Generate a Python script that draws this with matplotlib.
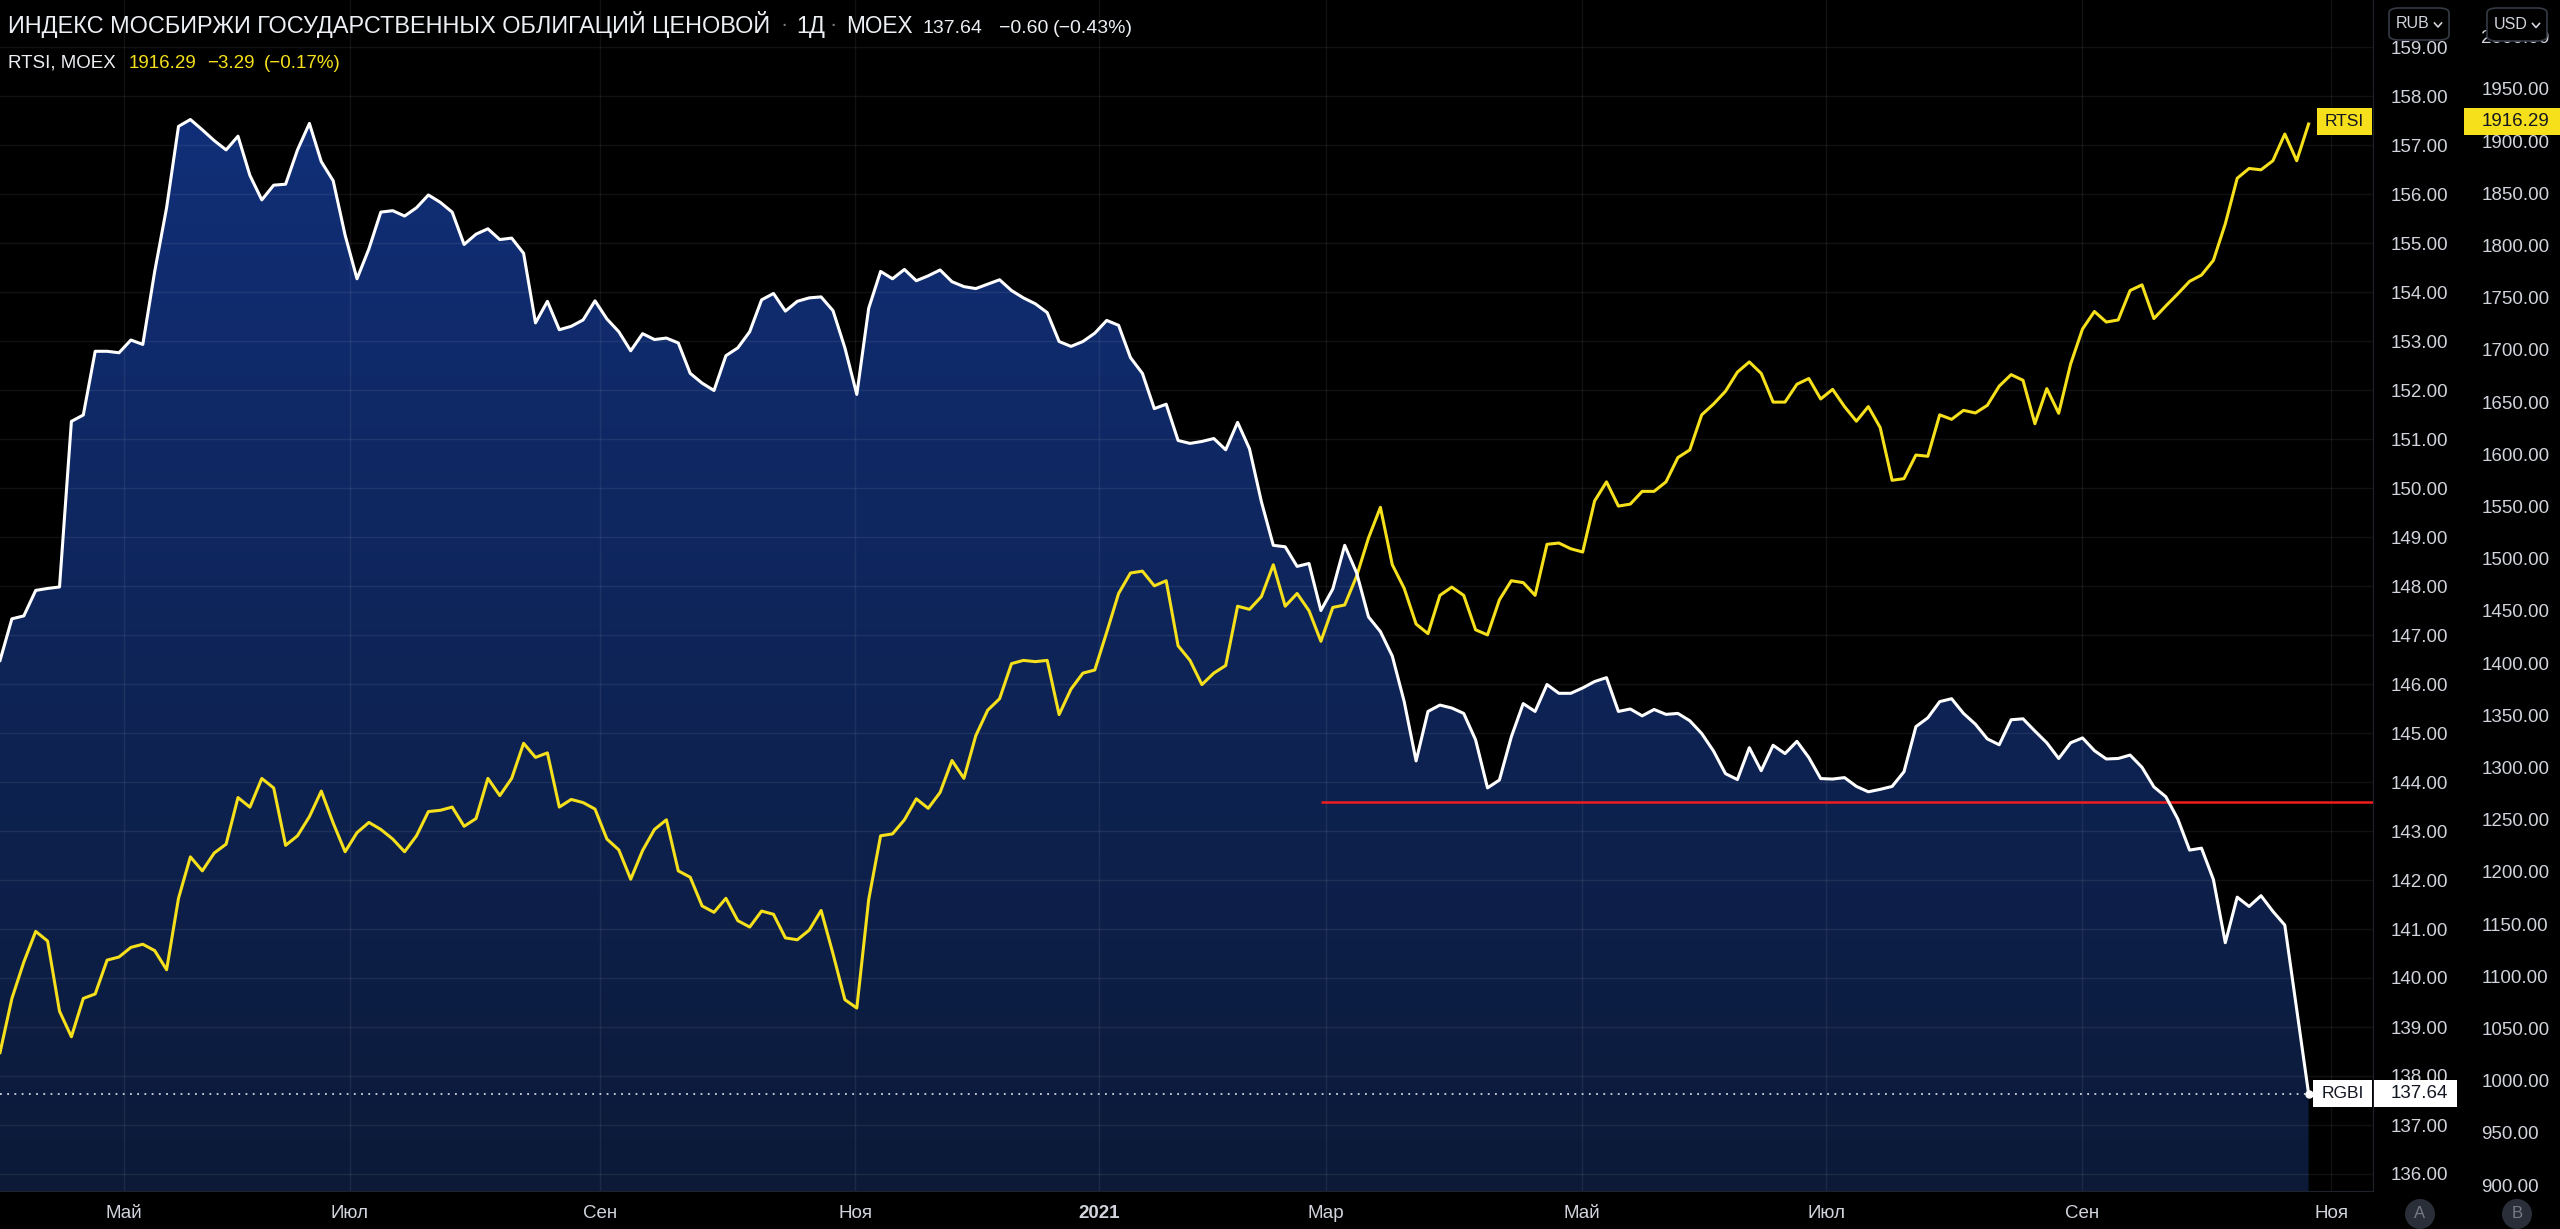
import numpy as np
import matplotlib.pyplot as plt
from matplotlib.colors import LinearSegmentedColormap
from matplotlib.patches import Rectangle, FancyBboxPatch, Ellipse
from matplotlib.lines import Line2D

# RGBI (price index of gov bonds) and RTSI, one value every 2 trading days, Apr 2020 - Oct 2021
rgbi = [
    146.48, 147.33, 147.39, 147.91, 147.95, 147.98, 151.36, 151.49, 152.79, 152.79,
    152.76, 153.02, 152.93, 154.42, 155.72, 157.38, 157.52, 157.31, 157.09, 156.90,
    157.18, 156.38, 155.88, 156.18, 156.20, 156.90, 157.44, 156.66, 156.27, 155.16,
    154.27, 154.88, 155.63, 155.66, 155.55, 155.72,
    155.98, 155.83, 155.63, 154.97, 155.18, 155.29, 155.07, 155.10, 154.79, 153.37,
    153.81, 153.23, 153.30, 153.43, 153.82, 153.45, 153.19, 152.80, 153.15, 153.03,
    153.06, 152.96, 152.34, 152.14, 151.99, 152.70, 152.86, 153.19, 153.84, 153.97,
    153.61, 153.81, 153.88,
    153.90, 153.62, 152.86, 151.91, 153.67, 154.42, 154.27, 154.46, 154.23, 154.33,
    154.45, 154.21, 154.11, 154.07, 154.16, 154.25, 154.03, 153.88, 153.76, 153.58,
    152.99, 152.89, 152.99, 153.16, 153.42, 153.32, 152.66, 152.34, 151.62, 151.71,
    150.97, 150.91,
    150.95, 151.01, 150.78, 151.34, 150.80, 149.72, 148.83, 148.80, 148.40, 148.46,
    147.50, 147.94, 148.83, 148.27, 147.37, 147.07, 146.57, 145.64, 144.43, 145.44,
    145.57, 145.51, 145.40, 144.86, 143.88, 144.04, 144.92, 145.60, 145.44, 145.99,
    145.81, 145.81, 145.92, 146.05,
    146.13, 145.44, 145.49, 145.35, 145.48, 145.38, 145.40, 145.25, 144.99, 144.63,
    144.17, 144.05, 144.70, 144.23, 144.75, 144.58, 144.83, 144.50, 144.07, 144.06,
    144.09, 143.91, 143.80, 143.85, 143.91, 144.21, 145.13, 145.31, 145.64, 145.70,
    145.40, 145.18, 144.88, 144.76,
    145.27, 145.29, 145.04, 144.80, 144.48, 144.80, 144.90, 144.64, 144.47, 144.48,
    144.55, 144.30, 143.90, 143.70, 143.25, 142.61, 142.65, 142.01, 140.72, 141.65,
    141.46, 141.68, 141.36, 141.08, 139.36, 137.64,
]

rtsi = [
    1026.8, 1078.7, 1113.5, 1142.9, 1133.7, 1066.5, 1042.0, 1078.7, 1083.0, 1115.4,
    1118.4, 1127.6, 1130.6, 1124.5, 1106.2, 1174.6, 1214.3, 1200.9, 1218.0, 1226.5,
    1271.1, 1261.9, 1289.4, 1280.3, 1225.3, 1234.5, 1252.8, 1277.3, 1246.7, 1219.2,
    1237.5, 1247.3, 1240.6, 1231.4, 1219.2, 1234.5,
    1257.7, 1258.9, 1262.0, 1243.6, 1251.0, 1289.5, 1273.0, 1289.5, 1323.1, 1309.6,
    1313.9, 1262.0, 1269.3, 1266.3, 1260.1, 1231.4, 1221.0, 1192.9, 1220.4, 1240.6,
    1249.8, 1200.9, 1194.8, 1167.3, 1161.2, 1174.6, 1153.2, 1147.1, 1162.4, 1159.3,
    1136.7, 1134.9, 1144.1,
    1163.0, 1121.5, 1077.5, 1069.5, 1173.4, 1234.5, 1236.3, 1249.8, 1269.9, 1260.8,
    1276.0, 1306.6, 1289.5, 1330.4, 1354.8, 1365.8, 1399.4, 1402.5, 1401.3, 1402.5,
    1350.6, 1375.0, 1390.3, 1393.3, 1429.4, 1466.6, 1486.2, 1488.0, 1473.9, 1478.8,
    1416.5, 1402.5,
    1379.3, 1390.3, 1397.6, 1454.4, 1451.4, 1463.6, 1494.1, 1454.4, 1466.6, 1450.1,
    1420.8, 1453.2, 1455.6, 1483.1, 1519.8, 1549.1, 1494.1, 1471.5, 1437.3, 1428.1,
    1464.8, 1472.7, 1464.8, 1431.8, 1426.9, 1460.5, 1478.8, 1477.0, 1464.8, 1513.7,
    1514.9, 1509.4, 1506.3, 1555.2,
    1573.5, 1550.3, 1552.2, 1564.4, 1564.4, 1573.5, 1596.8, 1604.1, 1637.7, 1648.1,
    1660.3, 1678.6, 1688.4, 1677.4, 1649.9, 1649.9, 1667.0, 1672.5, 1652.9, 1662.1,
    1645.6, 1631.6, 1645.6, 1625.5, 1575.0, 1576.6, 1599.2, 1598.0, 1637.7, 1633.4,
    1642.0, 1639.5, 1646.8, 1665.2,
    1676.2, 1670.8, 1629.2, 1662.8, 1639.2, 1686.3, 1719.9, 1736.7, 1726.6, 1728.6,
    1756.8, 1762.2, 1729.9, 1742.0, 1753.5, 1765.6, 1771.6, 1785.7, 1820.7, 1864.3,
    1873.7, 1872.4, 1881.1, 1906.7, 1881.1, 1916.29,
]

month_labels = ["Май", "Июл", "Сен", "Ноя", "2021", "Мар", "Май", "Июл", "Сен", "Ноя"]
month_bars = [20.8, 58.8, 100.8, 143.7, 184.7, 222.9, 265.9, 306.9, 349.9, 391.8]

rgbi_ticks = list(range(136, 160))
rtsi_ticks = list(range(900, 2001, 50))

support_level = 143.59   # red horizontal line
support_start = 222.0    # bar where it starts (early March 2021)
rgbi_last = 137.64
rtsi_last = 1916.29

bars = np.arange(len(rgbi)) * 2  # trading-day index

# ---- layout (pixels) ----
W, H = 2560, 1229
PX_PER_BAR = 5.95
plot_right = 2373
plot_bottom = 1191

FONT = ["Liberation Sans", "DejaVu Sans"]
plt.rcParams["font.family"] = FONT
TXT = "#d1d4dc"
HEAD = "#eceff4"
YEL = "#f5e01b"

fig = plt.figure(figsize=(W / 100, H / 100), dpi=100, facecolor="black")
ax = fig.add_axes([0, (H - plot_bottom) / H, plot_right / W, plot_bottom / H])
ax.set_facecolor("black")

y0_rgbi = 136 - (plot_bottom - 1174) / 49
y1_rgbi = 136 + 1174 / 49
y0_rtsi = 900 - (plot_bottom - 1185) / 1.044
y1_rtsi = 900 + 1185 / 1.044
xmax = plot_right / PX_PER_BAR

# gradient area under RGBI
poly = ax.fill_between(bars, rgbi, y0_rgbi, facecolor="none", edgecolor="none")
cmap = LinearSegmentedColormap.from_list("area", ["#0c1a38", "#112f78"])
grad = np.linspace(0, 1, 256).reshape(-1, 1)
im = ax.imshow(grad, extent=[bars[0], bars[-1], y0_rgbi, max(rgbi)], origin="lower",
               aspect="auto", cmap=cmap, zorder=0.5, interpolation="bicubic")
im.set_clip_path(poly.get_paths()[0], transform=ax.transData)

ax.hlines(support_level, support_start, xmax, color="#f01d1d", lw=1.8, zorder=3)
ax.hlines(rgbi_last, 0, bars[-1], color="#cfd3dc", lw=1.3, linestyle=(0, (1, 3)), zorder=3)

# RTSI scale
ax2 = ax.twinx()
ax2.plot(bars, rtsi, color=YEL, lw=2.2, zorder=3)
ax2.plot(bars, rgbi, color="white", lw=2.2, zorder=4, transform=ax.transData)
ax2.plot([bars[-1]], [rgbi_last], "o", ms=5, color="white", zorder=5, transform=ax.transData)
ax2.set_ylim(y0_rtsi, y1_rtsi)
ax2.set_yticks(rtsi_ticks)
ax2.set_yticklabels([f"{v:.2f}" for v in rtsi_ticks])
ax2.tick_params(axis="y", length=0, pad=78, labelsize=13.5, labelcolor=TXT)
for side in ["top", "left", "right", "bottom"]:
    ax2.spines[side].set_visible(False)

# RGBI scale (twinx moved it to the left, put it back right)
ax.set_xlim(0, xmax)
ax2.set_xlim(0, xmax)
ax.set_ylim(y0_rgbi, y1_rgbi)
ax.yaxis.tick_right()
ax.set_yticks(rgbi_ticks)
ax.set_yticklabels([f"{v:.2f}" for v in rgbi_ticks])
ax.set_xticks(month_bars)
ax.set_xticklabels(month_labels)
for lab in ax.get_xticklabels():
    if lab.get_text() == "2021":
        lab.set_fontweight("bold")
ax.tick_params(axis="y", left=False, labelleft=False, right=True, labelright=True,
               length=0, pad=13, labelsize=13.5, labelcolor=TXT)
ax.tick_params(axis="x", length=0, pad=10, labelsize=13.5, labelcolor=TXT)
ax.grid(True, color="white", alpha=0.07, lw=1)
for side in ["top", "left"]:
    ax.spines[side].set_visible(False)
for side in ["right", "bottom"]:
    ax.spines[side].set_color("#1e222d")


def fx(x):
    return x / W


def fy(y):
    return 1 - y / H


def box(x0, y0, x1, y1, face, text, tcolor, tx=None, size=13.5):
    fig.add_artist(Rectangle((fx(x0), fy(y1)), fx(x1 - x0), (y1 - y0) / H,
                             transform=fig.transFigure, facecolor=face, edgecolor="none", zorder=5))
    if tx is None:
        fig.text(fx((x0 + x1) / 2), fy((y0 + y1) / 2), text, color=tcolor, fontsize=size,
                 ha="center", va="center", zorder=6)
    else:
        fig.text(fx(tx), fy((y0 + y1) / 2), text, color=tcolor, fontsize=size,
                 ha="left", va="center", zorder=6)


# price labels
box(2317, 108, 2372, 135, YEL, "RTSI", "#131722", size=12.5)
box(2464, 108, 2560, 135, YEL, "1916.29", "#131722", tx=2482)
box(2313, 1080, 2372, 1107, "white", "RGBI", "#131722", size=12.5)
box(2374, 1080, 2457, 1107, "white", "137.64", "#131722", tx=2391)


# currency buttons
def button(x0, y0, x1, y1, text):
    fig.add_artist(FancyBboxPatch((fx(x0), fy(y1)), fx(x1 - x0), (y1 - y0) / H,
                                  boxstyle="round,pad=0,rounding_size=0.004",
                                  transform=fig.transFigure, facecolor="black",
                                  edgecolor="#363a45", lw=1.2, zorder=5))
    fig.text(fx(x0 + 7), fy((y0 + y1) / 2), text, color=TXT, fontsize=11.5,
             ha="left", va="center", zorder=6)
    cx = x1 - 11
    cy = (y0 + y1) / 2 + 1
    fig.add_artist(Line2D([fx(cx - 3.5), fx(cx), fx(cx + 3.5)], [fy(cy - 2), fy(cy + 2), fy(cy - 2)],
                          transform=fig.transFigure, color=TXT, lw=1.2, zorder=6))


button(2389, 8, 2449, 40, "RUB")
button(2487, 8, 2547, 41, "USD")

# scale mode circles
for cx, letter in [(2420, "A"), (2517, "B")]:
    fig.add_artist(Ellipse((fx(cx), fy(1214)), 30 / W, 30 / H, transform=fig.transFigure,
                           facecolor="#2a2e39", edgecolor="none", zorder=5))
    fig.text(fx(cx), fy(1214), letter, color="#787b86", fontsize=12,
             ha="center", va="center", zorder=6)

# header texts
b1 = fy(33)
fig.text(fx(8), b1, "ИНДЕКС МОСБИРЖИ ГОСУДАРСТВЕННЫХ ОБЛИГАЦИЙ ЦЕНОВОЙ", color=HEAD,
         fontsize=16.9, ha="left", va="baseline")
fig.text(fx(784), fy(25), "·", color="#787b86", fontsize=16, ha="center", va="center")
fig.text(fx(796), b1, "1Д", color=HEAD, fontsize=16.9, ha="left", va="baseline")
fig.text(fx(833), fy(25), "·", color="#787b86", fontsize=16, ha="center", va="center")
fig.text(fx(846), b1, "MOEX", color=HEAD, fontsize=16.3, ha="left", va="baseline")
fig.text(fx(923), b1, "137.64", color=HEAD, fontsize=14, ha="left", va="baseline")
fig.text(fx(999), b1, "−0.60", color=HEAD, fontsize=14, ha="left", va="baseline")
fig.text(fx(1053), b1, "(−0.43%)", color=HEAD, fontsize=14, ha="left", va="baseline")

b2 = fy(68)
fig.text(fx(8), b2, "RTSI, MOEX", color=HEAD, fontsize=13.5, ha="left", va="baseline")
fig.text(fx(129), b2, "1916.29", color=YEL, fontsize=13.5, ha="left", va="baseline")
fig.text(fx(207), b2, "−3.29", color=YEL, fontsize=13.5, ha="left", va="baseline")
fig.text(fx(264), b2, "(−0.17%)", color=YEL, fontsize=13.5, ha="left", va="baseline")

fig.savefig("out.png", dpi=100, facecolor="black")
